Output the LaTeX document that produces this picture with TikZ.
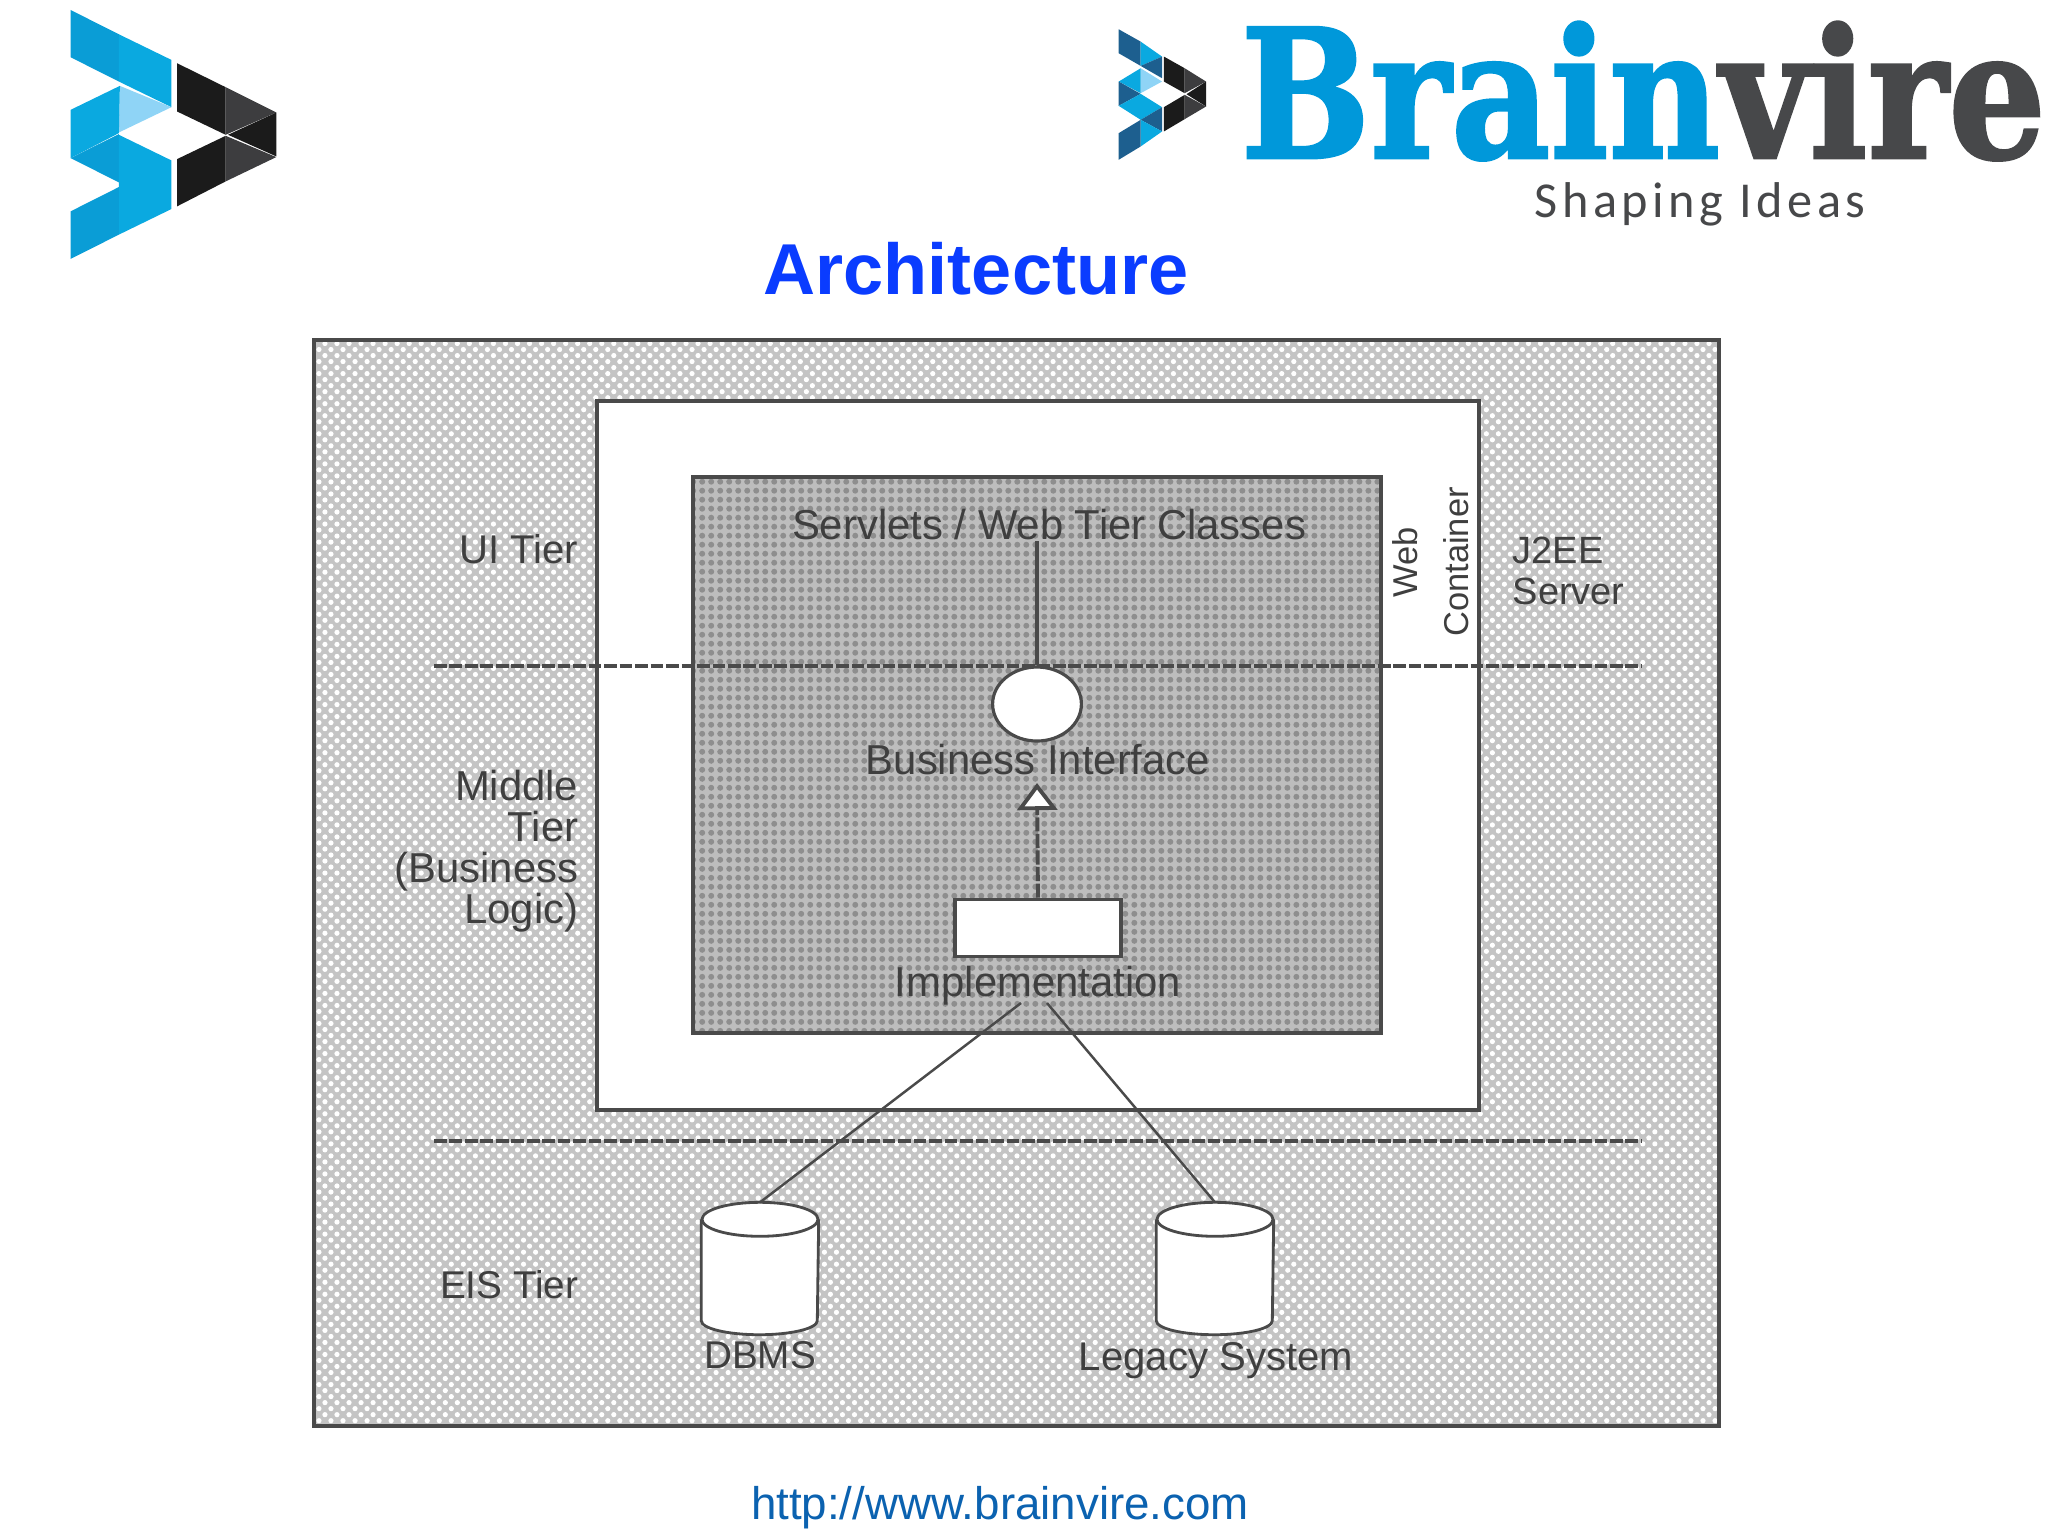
\documentclass[tikz,border=0pt]{standalone}
\usepackage{fontspec}
\setmainfont{Liberation Sans}
\newfontfamily\logofont[BoldFeatures={FakeBold=1.6}]{DejaVu Serif}
\newfontfamily\tagfont[LetterSpace=9]{Carlito}
\usetikzlibrary{arrows.meta,patterns.meta}

\definecolor{eisgray}{HTML}{C4C4C4}
\definecolor{webgray}{HTML}{BDBDBD}
\definecolor{webdots}{HTML}{8E8E8E}
\definecolor{inkgray}{HTML}{4A4A4A}
\definecolor{titleblue}{HTML}{0A3CFF}
\definecolor{urlblue}{HTML}{0B62B0}
\definecolor{logoblue}{HTML}{0098DA}
\definecolor{logogray}{HTML}{47484A}
\definecolor{skyblue}{HTML}{0AA9E0}
\definecolor{deepsky}{HTML}{0A9DD6}
\definecolor{paleblue}{HTML}{8FD4F6}
\definecolor{navyblue}{HTML}{1D5F8F}
\definecolor{coal}{HTML}{1B1B1B}
\definecolor{slate}{HTML}{3D3D3F}

\newcommand{\tiersize}[1]{\fontsize{#1}{11.66pt}\selectfont}

\tikzset{
    tiertext/.style={font=\tiersize{11.9pt}, text=inkgray!85!black, inner sep=0pt},
    tierbox/.style={draw=inkgray, line width=1.1pt},
    tierline/.style={draw=inkgray, line width=1.1pt},
    cutline/.style={draw=inkgray, line width=1.1pt, dash pattern=on 3.6pt off .8pt},
    storeline/.style={draw=inkgray, line width=.8pt, fill=white},
}

% a data store: name, then centre of the body
\newcommand{\datastore}[2]{
    \node[minimum width=116*.01cm,minimum height=100*.01cm,inner sep=0pt] (#1) at (#2) {};
    \coordinate (#1 top) at ([yshift=17*.01cm]#1.north);
    \draw[storeline] (#1.north west) -- (#1.south west) arc (180:360:58*.01cm and 14*.01cm) -- (#1.north east);
    \draw[storeline] (#1.north) ellipse (58*.01cm and 17*.01cm);
}

\begin{document}
\begin{tikzpicture}[x=.01cm,y=-.01cm]
\useasboundingbox (0,0) rectangle (2048,1535);

% Big logo
\begin{scope}[shift={(40,0)},x=.00333cm,y=-.00333cm]
    \fill[deepsky] (92,30) -- (237,103) -- (237,245) -- (92,172) -- cycle;
    \fill[skyblue] (237,103) -- (395,180) -- (395,322) -- (237,245) -- cycle;
    \fill[paleblue] (240,258) -- (395,322) -- (237,398) -- cycle;
    \fill[skyblue] (92,330) -- (240,258) -- (237,400) -- (92,475) -- cycle;
    \fill[deepsky] (92,475) -- (237,403) -- (237,548) -- cycle;
    \fill[skyblue] (237,405) -- (395,482) -- (395,628) -- (237,705) -- cycle;
    \fill[deepsky] (92,635) -- (237,562) -- (237,705) -- (92,778) -- cycle;
    \fill[coal] (412,190) -- (558,262) -- (558,405) -- (412,335) -- cycle;
    \fill[slate] (558,262) -- (710,338) -- (558,405) -- cycle;
    \fill[coal] (710,338) -- (710,470) -- (565,405) -- cycle;
    \fill[slate] (558,408) -- (710,472) -- (558,545) -- cycle;
    \fill[coal] (412,478) -- (558,408) -- (558,545) -- (412,620) -- cycle;
\end{scope}

% Small logo
\begin{scope}[shift={(1090,0)},x=.00611cm,y=-.00333cm]
    \fill[navyblue] (47,88) -- (83,125) -- (83,198) -- (47,160) -- cycle;
    \fill[skyblue] (83,125) -- (118,170) -- (83,198) -- cycle;
    \fill[navyblue] (83,198) -- (118,170) -- (118,235) -- cycle;
    \fill[paleblue] (83,205) -- (118,245) -- (83,280) -- cycle;
    \fill[skyblue] (47,245) -- (83,205) -- (83,280) -- cycle;
    \fill[navyblue] (47,245) -- (83,282) -- (47,318) -- cycle;
    \fill[skyblue] (47,318) -- (83,282) -- (118,322) -- (83,360) -- cycle;
    \fill[navyblue] (118,322) -- (118,395) -- (83,360) -- cycle;
    \fill[skyblue] (83,360) -- (118,395) -- (83,440) -- cycle;
    \fill[navyblue] (47,400) -- (83,360) -- (83,440) -- (47,480) -- cycle;
    \fill[coal] (121,170) -- (155,205) -- (155,280) -- (121,245) -- cycle;
    \fill[slate] (155,205) -- (190,245) -- (155,280) -- cycle;
    \fill[coal] (190,245) -- (190,320) -- (158,283) -- cycle;
    \fill[slate] (155,285) -- (190,320) -- (155,358) -- cycle;
    \fill[coal] (121,322) -- (155,285) -- (155,358) -- (121,395) -- cycle;
\end{scope}

\node[anchor=base west,inner sep=0pt] (brand) at (1240,158)
    {\scalebox{.855}[1]{\logofont\bfseries\fontsize{51pt}{51pt}\selectfont\textcolor{logoblue}{Brain}\textcolor{logogray}{vire}}};
\node[anchor=base west,inner sep=0pt,text=logogray,font=\tagfont\fontsize{14.3pt}{15pt}\selectfont] (slogan) at (1534,217) {Shaping Ideas};

% Title and link
\node[anchor=base,inner sep=0pt,text=titleblue,font=\bfseries\fontsize{20.5pt}{24pt}\selectfont] (title) at (976,294) {Architecture};
\node[anchor=base,inner sep=0pt,text=urlblue,font=\fontsize{13pt}{16pt}\selectfont] (link) at (1000,1519) {http://www.brainvire.com};

% Boxes
\draw[tierbox,preaction={fill=eisgray},pattern={Dots[distance=2.42pt,radius=.74pt,angle=45]},pattern color=white] (314,340) rectangle (1719,1426);
\draw[tierbox,fill=white] (597,401) rectangle (1479,1110);
\draw[tierbox,preaction={fill=webgray},pattern={Dots[distance=2.56pt,radius=.85pt]},pattern color=webdots] (693,477) rectangle (1381,1033);

% Tier borders
\coordinate (uileft) at (434,666);
\coordinate (uiright) at (1642,666);
\coordinate (eisleft) at (434,1141);
\coordinate (eisright) at (1642,1141);
\draw[cutline] (uileft) -- (uiright);
\draw[cutline] (eisleft) -- (eisright);

% Parts of the web tier
\node[tiertext] (servlets) at (1049,525) {Servlets / Web Tier Classes};
\node[draw=inkgray,line width=.9pt,fill=white,shape=circle,minimum size=74*.01cm,inner sep=0pt,xscale=1.2] (iface) at (1037,704) {};
\node[tiertext] (ifacelabel) at (1038,760) {Business Interface};
\node[tierbox,fill=white,minimum width=166*.01cm,minimum height=57*.01cm,inner sep=0pt] (implbox) at (1038,928) {};
\node[tiertext] (impllabel) at (1038,986) {Implementation};
\coordinate (arrowtip) at (1037,783);
\coordinate (implleft) at (1021,1003);
\coordinate (implright) at (1047,1003);

% Stores
\datastore{dbms}{760,1270}
\datastore{legacy}{1215,1270}
\node[tiertext,font=\tiersize{11pt}] (dbmslabel) at (760,1355) {DBMS};
\node[tiertext,font=\tiersize{11.4pt}] (legacylabel) at (1216,1361) {Legacy System};

% Connectors
\draw[tierline] (iface.north |- servlets.south) -- (iface.north);
\draw[tierline,dash pattern=on 4pt off .7pt,-{Triangle[open,fill=white,length=7.7pt,width=11.4pt]}] (implbox.north) -- (arrowtip);
\draw[tierline,line width=.7pt] (implleft) -- (dbms top);
\draw[tierline,line width=.7pt] (implright) -- (legacy top);

% Tier names
\node[tiertext,font=\tiersize{11.4pt},anchor=east] (uitier) at (579,549) {UI Tier};
\node[tiertext,anchor=east,align=right] (midtier) at (579,851) {Middle\\Tier\\(Business\\Logic)};
\node[tiertext,font=\tiersize{11pt},anchor=east] (eistier) at (579,1285) {EIS Tier};
\node[tiertext,font=\tiersize{10.8pt},anchor=west,align=left] (server) at (1512,571) {J2EE\\Server};
\node[tiertext,font=\tiersize{9.8pt},rotate=90] (weblabel) at (1405,562) {Web};
\node[tiertext,font=\tiersize{9.8pt},rotate=90] (containerlabel) at (1456,562) {Container};
\end{tikzpicture}
\end{document}
